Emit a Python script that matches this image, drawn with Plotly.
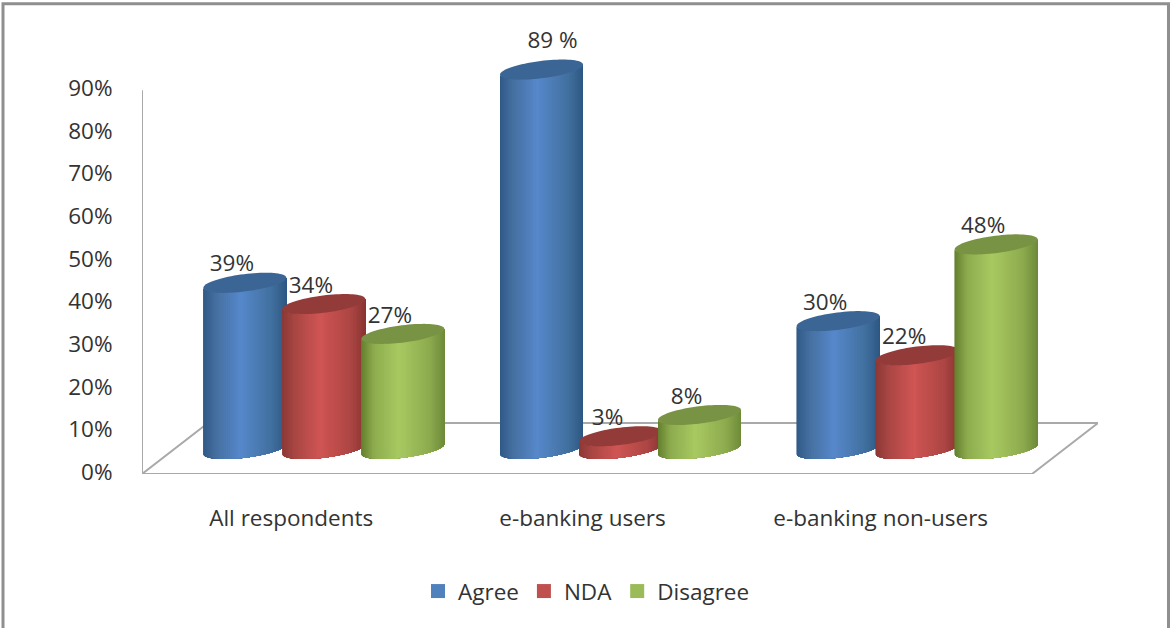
import numpy as np
import plotly.graph_objects as go

# Survey results, percent of respondents
categories = ["All respondents", "e-banking users", "e-banking non-users"]
agree = [39, 89, 30]
nda = [34, 3, 22]
disagree = [27, 8, 48]
agree_labels = ["39%", "89 %", "30%"]
nda_labels = ["34%", "3%", "22%"]
disagree_labels = ["27%", "8%", "48%"]
y_ticks = [0, 10, 20, 30, 40, 50, 60, 70, 80, 90]
y_tick_labels = ["0%", "10%", "20%", "30%", "40%", "50%", "60%", "70%", "80%", "90%"]

# Pixel scale of the axes
PX_PER_CAT = 296.67
PX_PER_PCT = 384 / 90
LEFT, BOTTOM = 142, 474
DEPTH_X = 66 / PX_PER_CAT
DEPTH_Y = 51 / PX_PER_PCT
X_MAX = 2.5 + DEPTH_X
Y_MAX = 110

# Cylinder geometry in axis units
BASE = 25 / PX_PER_PCT
GROUP_SHIFT = 33.5 / PX_PER_CAT
BAR_PITCH = 79 / PX_PER_CAT
RX = 41.5 / PX_PER_CAT
RY = 8.7 / PX_PER_PCT
SHEAR = 5 / PX_PER_PCT

AXIS_GREY = "#a9a9a9"
TEXT = "#333333"
FONT = "Open Sans"
FONT_SIZE = 22.5

series = [
    dict(name="Agree", values=agree, labels=agree_labels, offset=-1, swatch="#4f81bd", top="#3b6594",
         stops=["#2e5884", "#41709f", "#5688cb", "#456f9f", "#315a87"]),
    dict(name="NDA", values=nda, labels=nda_labels, offset=0, swatch="#c0504d", top="#933b39",
         stops=["#8a3533", "#ad4644", "#cf5553", "#a84643", "#8c3936"]),
    dict(name="Disagree", values=disagree, labels=disagree_labels, offset=1, swatch="#9bbb59", top="#789343",
         stops=["#6e8b3a", "#8dab4e", "#a8c961", "#8dab4e", "#64802f"]),
]
STOP_POS = [0, 0.18, 0.55, 0.85, 1]


def shade(stops, u):
    rgb = np.array([[int(c[i:i + 2], 16) for i in (1, 3, 5)] for c in stops], dtype=float)
    mixed = [np.interp(u, STOP_POS, rgb[:, k]) for k in range(3)]
    return "rgb({:.0f},{:.0f},{:.0f})".format(*mixed)


def rim(cx, cy, angles):
    """Points of a sheared ellipse rim at the given angles."""
    xs = cx + RX * np.cos(angles)
    ys = cy + RY * np.sin(angles) + SHEAR * np.cos(angles)
    return xs, ys


fig = go.Figure()


def outline(xs, ys, width=2):
    fig.add_trace(go.Scatter(x=xs, y=ys, mode="lines", showlegend=False, hoverinfo="skip",
                             line=dict(color=AXIS_GREY, width=width)))


# Value axis and floor of the 3D box
outline([-0.5, -0.5], [0, 90])
outline([-0.5, 2.5, X_MAX, -0.5 + DEPTH_X, -0.5], [0, 0, DEPTH_Y, DEPTH_Y, 0])

# Cylinders, painted left to right so each one overlaps its neighbour.
# Every shading band runs to the right edge and the next band paints over it,
# which leaves no seams between the bands.
edges = np.linspace(np.pi, 2 * np.pi, 61)
for c in range(len(categories)):
    for s in series:
        cx = c + GROUP_SHIFT + s["offset"] * BAR_PITCH
        top_y = BASE + s["values"][c]
        for a0, a1 in zip(edges[:-1], edges[1:]):
            seg = np.linspace(a0, 2 * np.pi, 40)
            xb, yb = rim(cx, BASE, seg)
            xt, yt = rim(cx, top_y, seg[::-1])
            u = (np.cos(np.pi - (a0 + a1) / 2) + 1) / 2
            fig.add_trace(go.Scatter(
                x=np.r_[xb, xt, xb[0]], y=np.r_[yb, yt, yb[0]],
                mode="none", fill="toself", fillcolor=shade(s["stops"], u),
                showlegend=False, hoverinfo="skip"))
        theta = np.linspace(0, 2 * np.pi, 80)
        xe, ye = rim(cx, top_y, theta)
        fig.add_trace(go.Scatter(x=xe, y=ye, mode="none", fill="toself", fillcolor=s["top"],
                                 showlegend=False, hoverinfo="skip"))

# Data labels sit above and slightly left of each top, except the tall bar
for s in series:
    xs, ys = [], []
    for c, v in enumerate(s["values"]):
        cx = c + GROUP_SHIFT + s["offset"] * BAR_PITCH
        tall = v > 80
        xs.append(cx + (11 if tall else -13) / PX_PER_CAT)
        ys.append(BASE + v + (27 if tall else 17) / PX_PER_PCT)
    fig.add_trace(go.Scatter(x=xs, y=ys, mode="text", text=s["labels"], textposition="middle center",
                             textfont=dict(family=FONT, size=FONT_SIZE, color=TEXT),
                             showlegend=False, hoverinfo="skip", cliponaxis=False))

# Legend entries
for s in series:
    fig.add_trace(go.Scatter(x=[None], y=[None], mode="markers", name=s["name"],
                             marker=dict(symbol="square", size=14, color=s["swatch"])))

plot_w = (X_MAX + 0.5) * PX_PER_CAT
plot_h = Y_MAX * PX_PER_PCT

fig.update_layout(
    width=1170, height=628, autosize=False,
    margin=dict(l=LEFT, r=1170 - LEFT - plot_w, t=BOTTOM - plot_h, b=628 - BOTTOM, pad=0),
    paper_bgcolor="white", plot_bgcolor="white",
    font=dict(family=FONT, size=FONT_SIZE, color=TEXT),
    hovermode=False,
    xaxis=dict(range=[-0.5, X_MAX], tickvals=[0.003, 0.985, 1.99], ticktext=categories, showgrid=False,
               zeroline=False, showline=False, ticks="outside", ticklen=24, tickcolor="rgba(0,0,0,0)",
               tickfont=dict(family=FONT, size=FONT_SIZE, color=TEXT), fixedrange=True),
    yaxis=dict(range=[0, Y_MAX], tickvals=y_ticks, ticktext=y_tick_labels, showgrid=False, zeroline=False,
               showline=False, ticks="outside", ticklen=24, tickcolor="rgba(0,0,0,0)", ticklabelshift=-2,
               tickfont=dict(family=FONT, size=FONT_SIZE, color=TEXT), fixedrange=True),
    legend=dict(orientation="h", x=(418 - LEFT) / plot_w, xanchor="left",
                y=(BOTTOM - 570) / plot_h, yanchor="top",
                font=dict(family=FONT, size=FONT_SIZE, color=TEXT), bgcolor="rgba(0,0,0,0)"),
    shapes=[dict(type="rect", xref="paper", yref="paper",
                 x0=(3 - LEFT) / plot_w, x1=(1168.5 - LEFT) / plot_w,
                 y0=(BOTTOM - 650) / plot_h, y1=(BOTTOM - 3.5) / plot_h,
                 line=dict(color="#8f8f8f", width=3), layer="below")],
)

fig.write_html("out.html", config=dict(displayModeBar=False))
